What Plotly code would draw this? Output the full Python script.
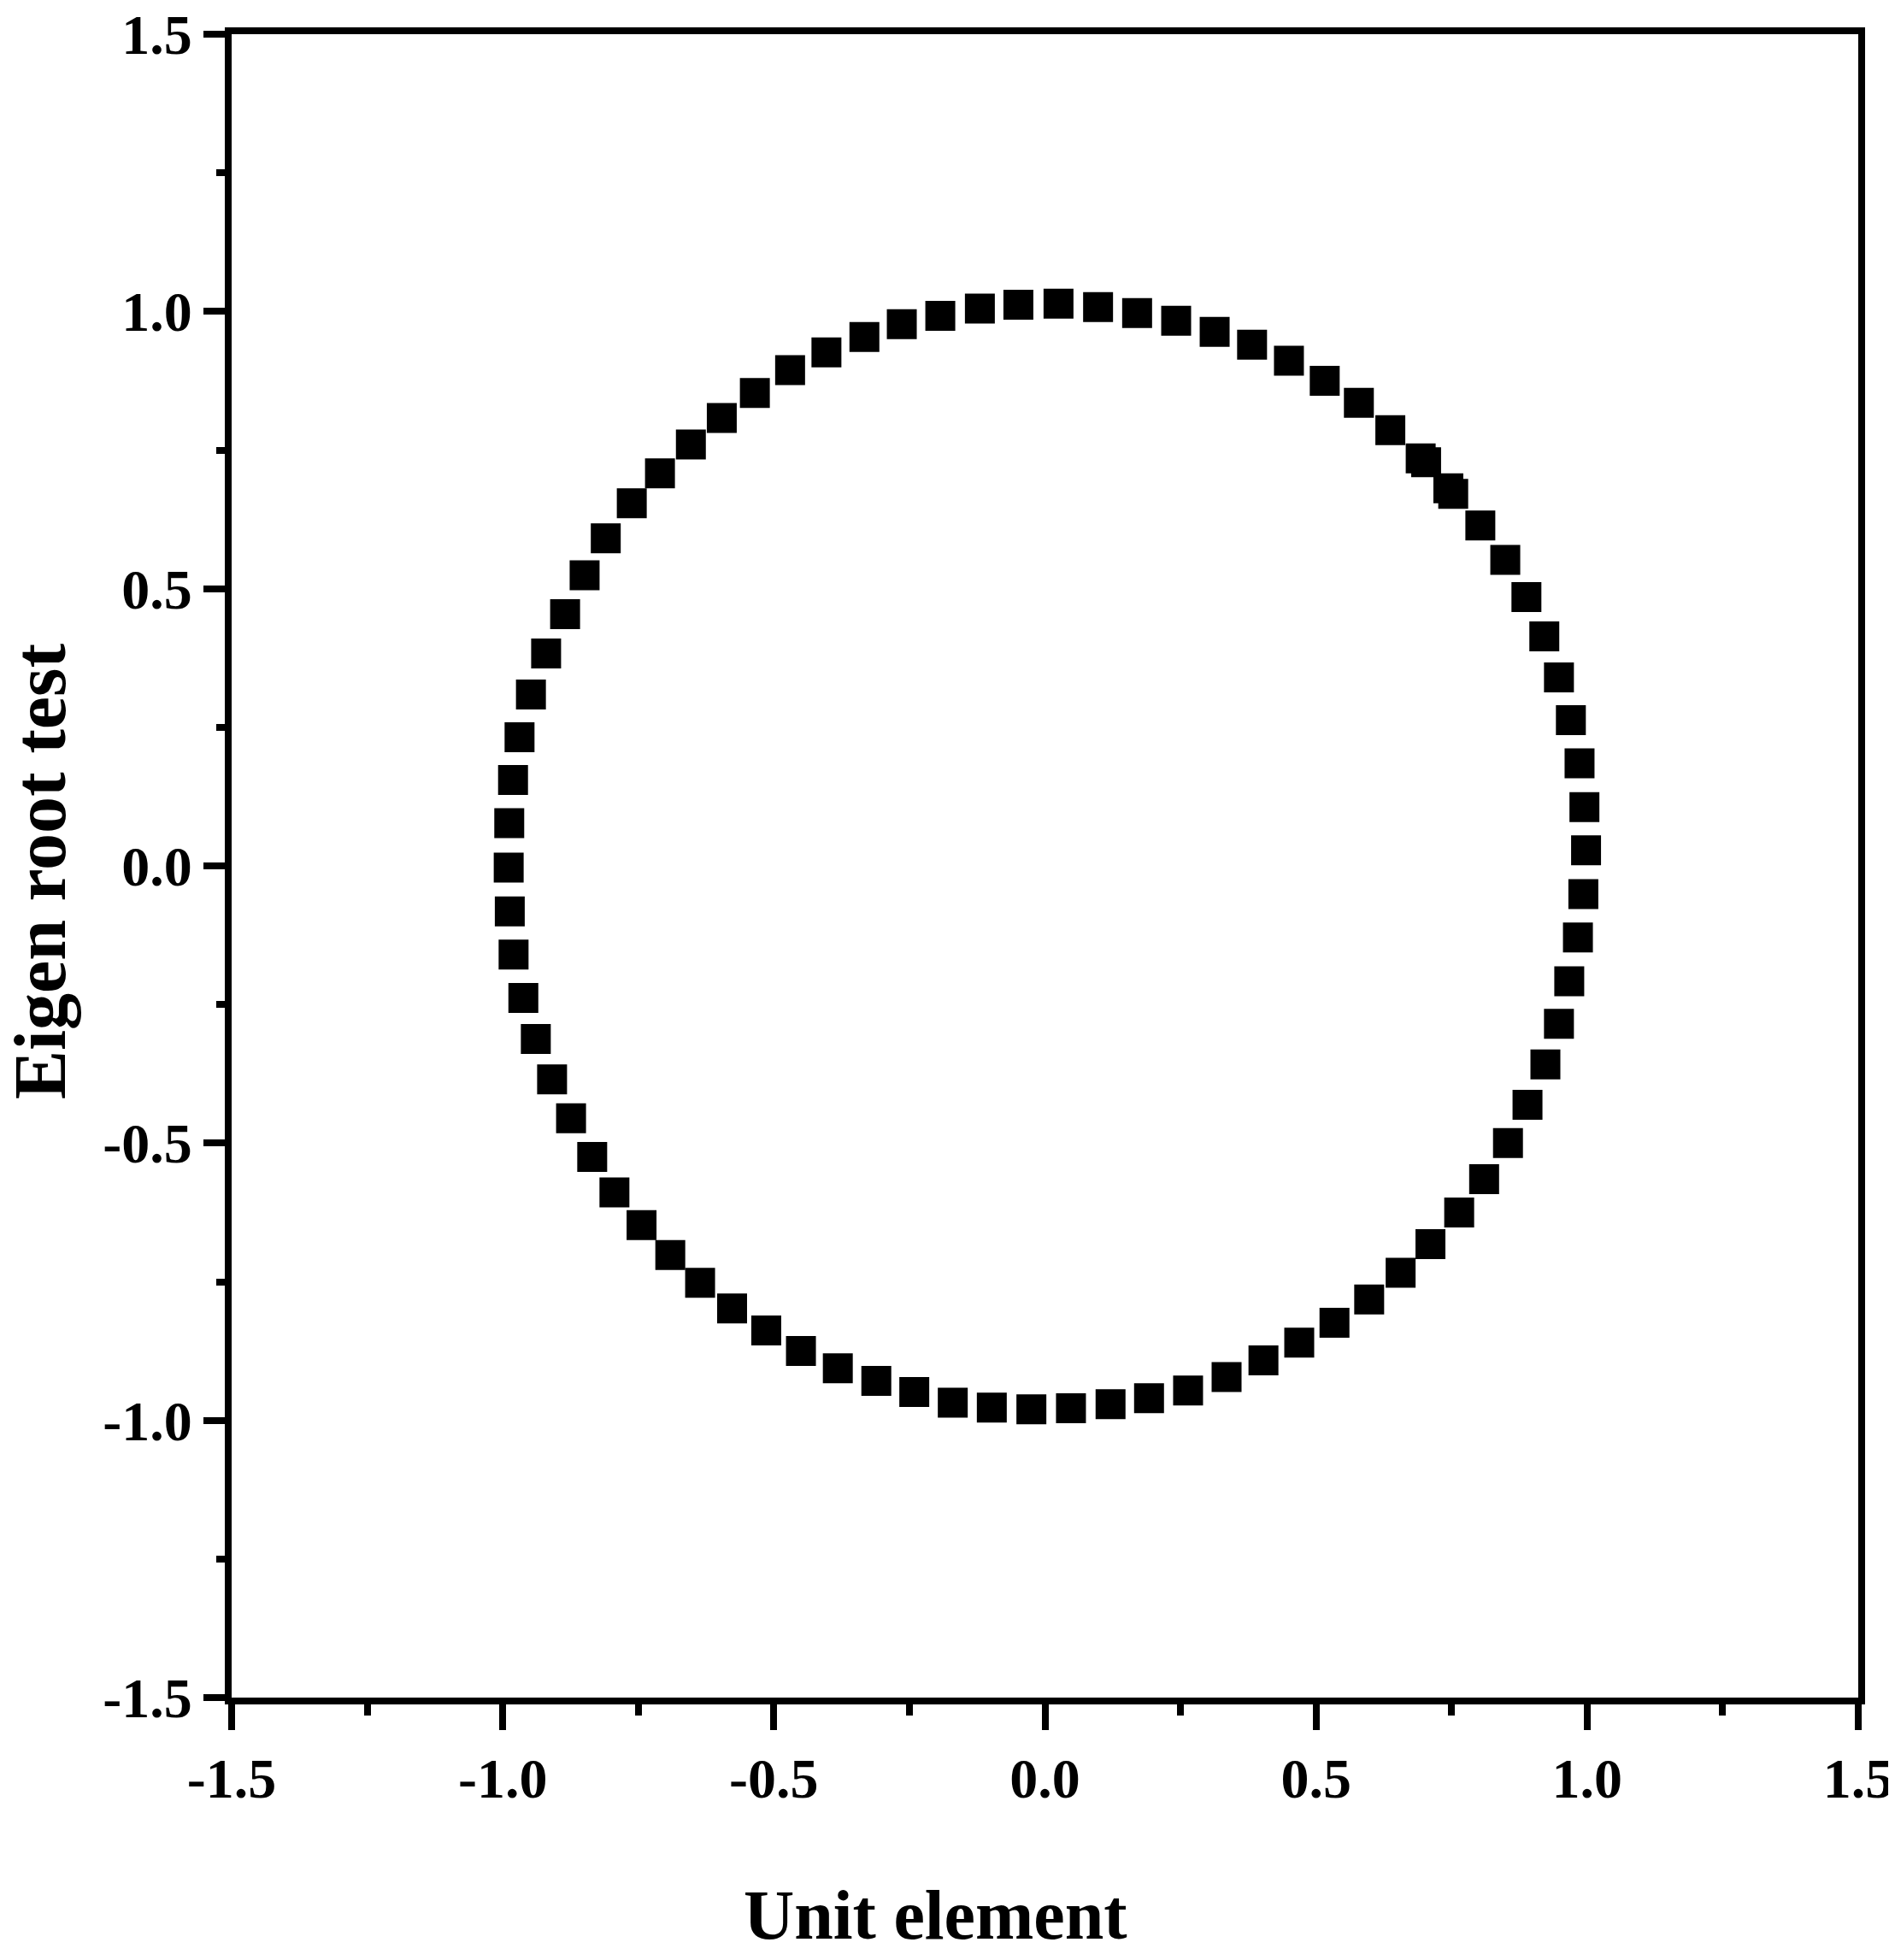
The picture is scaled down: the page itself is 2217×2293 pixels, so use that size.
import plotly.graph_objects as go

unit_element = [0.998, 0.995, 0.986, 0.970, 0.948, 0.921, 0.888, 0.849, 0.803, 0.753,
                0.744, 0.703, 0.693, 0.637, 0.579, 0.516, 0.450, 0.382, 0.313, 0.242,
                0.170, 0.098, 0.025, -0.049, -0.120, -0.193, -0.264, -0.333, -0.403, -0.470,
                -0.535, -0.596, -0.653, -0.710, -0.762, -0.810, -0.849, -0.885, -0.920, -0.948,
                -0.969, -0.981, -0.988, -0.989, -0.987, -0.980, -0.962, -0.939, -0.909, -0.874,
                -0.835, -0.794, -0.744, -0.691, -0.636, -0.577, -0.514, -0.450, -0.382, -0.311,
                -0.241, -0.170, -0.098, -0.025, 0.048, 0.121, 0.192, 0.264, 0.335, 0.403,
                0.469, 0.534, 0.598, 0.656, 0.711, 0.764, 0.810, 0.854, 0.890, 0.923,
                0.948, 0.967, 0.983, 0.993]
eigen_root = [0.028, 0.106, 0.185, 0.263, 0.340, 0.414, 0.485, 0.552, 0.614, 0.671,
              0.681, 0.728, 0.735, 0.786, 0.835, 0.875, 0.911, 0.940, 0.963, 0.983,
              0.997, 1.008, 1.014, 1.012, 1.005, 0.992, 0.977, 0.954, 0.926, 0.894,
              0.853, 0.808, 0.760, 0.708, 0.654, 0.591, 0.524, 0.454, 0.383, 0.309,
              0.232, 0.155, 0.077, -0.003, -0.082, -0.160, -0.238, -0.312, -0.385, -0.455,
              -0.525, -0.589, -0.648, -0.702, -0.752, -0.798, -0.838, -0.875, -0.906, -0.929,
              -0.949, -0.968, -0.977, -0.980, -0.978, -0.971, -0.960, -0.946, -0.922, -0.892,
              -0.860, -0.824, -0.782, -0.734, -0.682, -0.625, -0.565, -0.500, -0.431, -0.358,
              -0.285, -0.208, -0.129, -0.051]

tick_vals = [-1.5, -1.0, -0.5, 0.0, 0.5, 1.0, 1.5]
tick_text = ["-1.5", "-1.0", "-0.5", "0.0", "0.5", "1.0", "1.5"]

fuente = "Liberation Serif"

fig = go.Figure()
fig.add_trace(go.Scatter(x=unit_element, y=eigen_root, mode='markers',
                         marker=dict(symbol='square', size=35, color='black',
                                     line=dict(width=0)),
                         showlegend=False))

ejes = dict(range=[-1.5, 1.5], tickmode='array', tickvals=tick_vals, ticktext=tick_text,
            showgrid=False, zeroline=False, showline=True, mirror=True, automargin=False,
            linecolor='black', linewidth=8, ticks='outside', tickwidth=8,
            tickcolor='black', ticklabeloverflow='allow',
            tickfont=dict(family=fuente, size=66, color='black', weight='bold'))

fig.update_xaxes(**ejes, ticklen=30, ticklabelstandoff=0,
                 minor=dict(ticks='outside', ticklen=13, tickwidth=8, tickcolor='black',
                            tickmode='linear', tick0=0, dtick=0.25, showgrid=False))
fig.update_yaxes(**ejes, ticklen=25, ticklabelstandoff=0,
                 minor=dict(ticks='outside', ticklen=10, tickwidth=8, tickcolor='black',
                            tickmode='linear', tick0=0, dtick=0.25, showgrid=False))

fig.add_annotation(text="Unit element", xref='paper', yref='paper', x=0.433, y=-0.131,
                   xanchor='center', yanchor='middle', showarrow=False,
                   font=dict(family=fuente, size=82, color='black', weight='bold'))
fig.add_annotation(text="Eigen root test", xref='paper', yref='paper', x=-0.118, y=0.497,
                   xanchor='center', yanchor='middle', showarrow=False, textangle=-90,
                   font=dict(family=fuente, size=86, color='black', weight='bold'))

# el body de la pagina deja 8 px de margen, se descuenta aqui
fig.update_layout(width=2217, height=2293, plot_bgcolor='white', paper_bgcolor='white',
                  margin=dict(l=263, r=51, t=32, b=315))

fig.write_html("out.html")
